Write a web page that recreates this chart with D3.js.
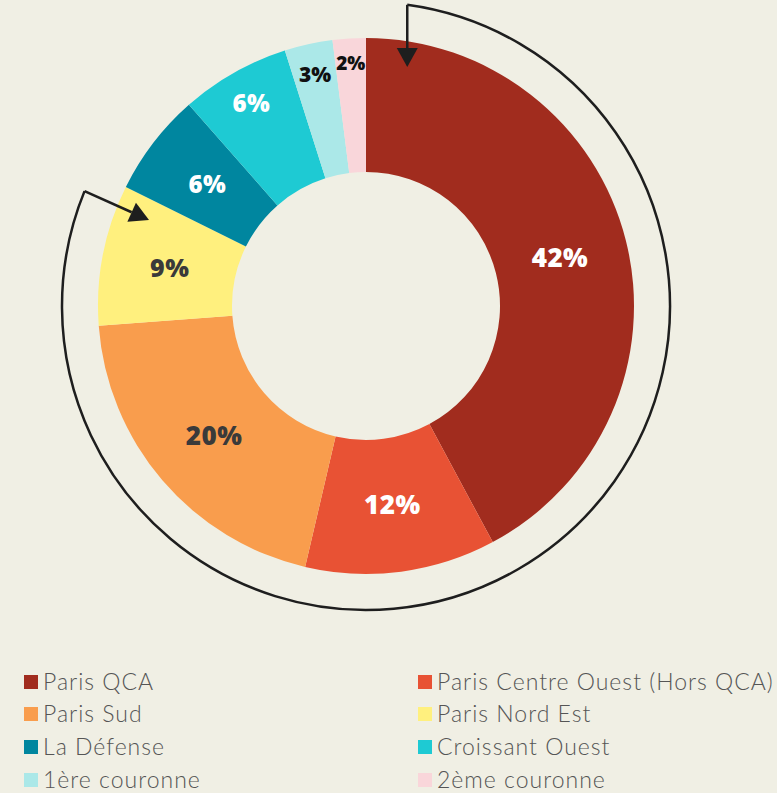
<!DOCTYPE html>
<html><head><meta charset="utf-8">
<script src="https://cdn.jsdelivr.net/npm/d3@7"></script>
<style>
html,body{margin:0;padding:0;background:#F0EFE4;}
svg{display:block;}
</style></head>
<body>
<svg id="chart" width="777" height="793"></svg>
<script>
const categories = ["Paris QCA","Paris Centre Ouest (Hors QCA)","Paris Sud","Paris Nord Est","La Défense","Croissant Ouest","1ère couronne","2ème couronne"];
const values = [42.2, 11.5, 20.2, 8.5, 6.2, 6.6, 2.9, 2.0];
const valueLabels = ["42%","12%","20%","9%","6%","6%","3%","2%"];
const colors = ["#A12C1E","#E85234","#F99D4D","#FFF07E","#00869F","#1ECAD3","#ABE8E8","#F9D6DA"];
const labelColors = ["#ffffff","#ffffff","#3a3a3a","#3a3a3a","#ffffff","#ffffff","#111111","#111111"];

const svg = d3.select("#chart");
const cx = 366, cy = 306, R = 268, r = 134;
const g = svg.append("g").attr("transform", `translate(${cx},${cy})`);

const pie = d3.pie().sort(null).value(d => d);
const arcs = pie(values);
const arc = d3.arc().innerRadius(r).outerRadius(R);

g.selectAll("path.slice").data(arcs).enter().append("path")
  .attr("class","slice").attr("d", arc).attr("fill",(d,i)=>colors[i]);

// labels
const labelR = [200,200,200,200,200,233,237,243];
const labelSize = [26,26,26,25,24,24,21,19];
g.selectAll("text.lbl").data(arcs).enter().append("text")
  .attr("class","lbl")
  .attr("transform",(d,i)=>{
    const a=(d.startAngle+d.endAngle)/2; const rr=labelR[i];
    return `translate(${Math.sin(a)*rr},${-Math.cos(a)*rr})`;})
  .attr("text-anchor","middle").attr("dy","0.36em")
  .attr("font-family","'Open Sans', sans-serif").attr("font-weight",800)
  .attr("letter-spacing",(d,i)=>i>=6?"0px":"0.5px")
  .attr("font-size",(d,i)=>labelSize[i]+"px")
  .attr("fill",(d,i)=>labelColors[i])
  .text((d,i)=>valueLabels[i]);

// annotation arc with arrows
const AR = 304;
const a0 = 7.8*Math.PI/180, a1 = 292.2*Math.PI/180;
const p0 = [Math.sin(a0)*AR, -Math.cos(a0)*AR];
const p1 = [Math.sin(a1)*AR, -Math.cos(a1)*AR];
const path = d3.path();
path.moveTo(p0[0], p0[1]);
path.arc(0,0,AR,a0-Math.PI/2,a1-Math.PI/2,false);
g.append("path").attr("d", path.toString()).attr("fill","none").attr("stroke","#1e1e1e").attr("stroke-width",2.5);

function arrow(from, to){
  const dx=to[0]-from[0], dy=to[1]-from[1]; const L=Math.hypot(dx,dy);
  const ux=dx/L, uy=dy/L; const hl=19, hw=10.5;
  const bx=to[0]-ux*hl, by=to[1]-uy*hl;
  g.append("line").attr("x1",from[0]).attr("y1",from[1]).attr("x2",bx).attr("y2",by)
    .attr("stroke","#1e1e1e").attr("stroke-width",2.5);
  g.append("path").attr("d",`M${to[0]},${to[1]}L${bx-uy*hw},${by+ux*hw}L${bx+uy*hw},${by-ux*hw}Z`)
    .attr("fill","#1e1e1e");
}
arrow(p0, [p0[0], 67-cy]);
arrow(p1, [149-cx, 220-cy]);

// legend
const lg = svg.append("g");
const colX = [24, 418], rowY = [682, 714, 747, 780];
categories.forEach((c,i)=>{
  const x = colX[i%2], y = rowY[Math.floor(i/2)];
  lg.append("rect").attr("x",x).attr("y",y-7).attr("width",14).attr("height",14).attr("fill",colors[i]);
  lg.append("text").attr("x",x+19).attr("y",y).attr("dy","0.35em")
    .attr("font-family","Lato, sans-serif").attr("font-weight",300).attr("font-size","23px")
    .attr("letter-spacing","1px")
    .attr("fill","#555").text(c);
});
</script>
</body></html>
